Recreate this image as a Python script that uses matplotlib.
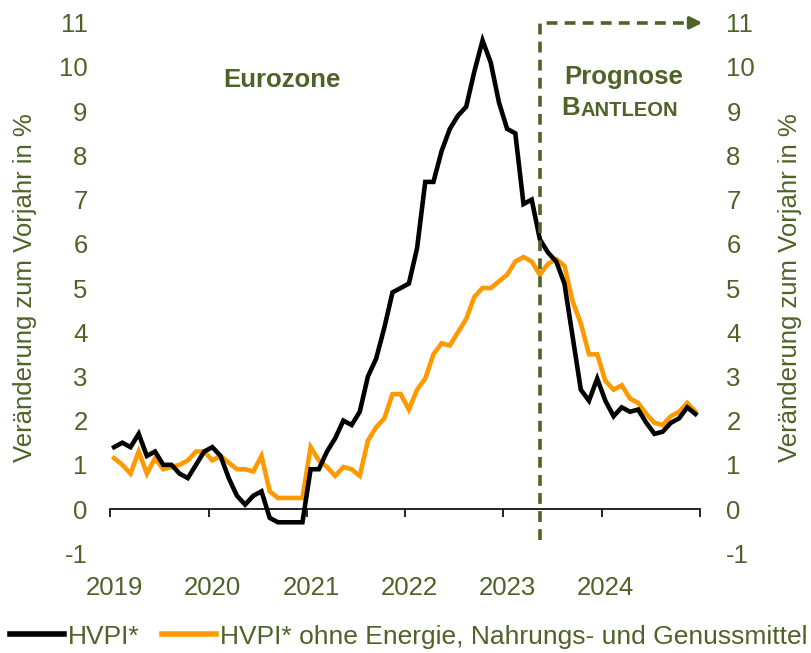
import matplotlib
matplotlib.use("Agg")
import matplotlib.pyplot as plt
import matplotlib.transforms as mtransforms
import numpy as np
from matplotlib.lines import Line2D

plt.rcParams['font.family'] = ['Liberation Sans', 'DejaVu Sans']
plt.rcParams['axes.unicode_minus'] = False

OLIVE = '#4f6228'
ORANGE = '#ff9900'

# monthly values, Jan 2019 .. Dec 2024 (from May 2023 on: forecast)
hvpi = [1.4, 1.5, 1.4, 1.7, 1.2, 1.3, 1.0, 1.0, 0.8, 0.7, 1.0, 1.3,
        1.4, 1.2, 0.7, 0.3, 0.1, 0.3, 0.4, -0.2, -0.3, -0.3, -0.3, -0.3,
        0.9, 0.9, 1.3, 1.6, 2.0, 1.9, 2.2, 3.0, 3.4, 4.1, 4.9, 5.0,
        5.1, 5.9, 7.4, 7.4, 8.1, 8.6, 8.9, 9.1, 9.9, 10.6, 10.1, 9.2,
        8.6, 8.5, 6.9, 7.0, 6.1, 5.8, 5.6, 5.1, 3.9, 2.7, 2.45, 2.95,
        2.45, 2.1, 2.3, 2.2, 2.25, 1.95, 1.7, 1.75, 1.95, 2.05, 2.3, 2.15]
kern = [1.15, 1.0, 0.8, 1.3, 0.8, 1.15, 0.9, 0.95, 1.0, 1.1, 1.3, 1.3,
        1.1, 1.2, 1.05, 0.9, 0.9, 0.85, 1.2, 0.4, 0.25, 0.25, 0.25, 0.25,
        1.4, 1.1, 0.95, 0.75, 0.95, 0.9, 0.75, 1.55, 1.85, 2.05, 2.6, 2.6,
        2.25, 2.7, 2.95, 3.5, 3.75, 3.7, 4.0, 4.3, 4.8, 5.0, 5.0, 5.15,
        5.3, 5.6, 5.7, 5.6, 5.3, 5.55, 5.65, 5.5, 4.7, 4.2, 3.5, 3.5,
        2.9, 2.7, 2.8, 2.5, 2.4, 2.15, 1.95, 1.9, 2.1, 2.2, 2.4, 2.2]
years = ['2019', '2020', '2021', '2022', '2023', '2024']
forecast_start = 52  # May 2023

months = np.arange(len(hvpi)) + 0.45

fig = plt.figure(figsize=(8.12, 6.53), dpi=100)
ax = fig.add_axes([0.136, 0.1528, 0.726, 0.8123])
ax2 = ax.twinx()

ax.plot(months, kern, color=ORANGE, lw=3.3, solid_joinstyle='miter', zorder=3)
ax.plot(months, hvpi, color='black', lw=3.3, solid_joinstyle='miter', zorder=4)

ax.set_xlim(0, 72)
for a in (ax, ax2):
    a.set_ylim(-1, 11)
    a.set_yticks(range(-1, 12))
    for s in ('top', 'left', 'right'):
        a.spines[s].set_visible(False)
ax2.spines['bottom'].set_visible(False)

ax.tick_params(axis='y', length=0, pad=16.5, labelsize=18.5, labelcolor=OLIVE)
ax2.tick_params(axis='y', length=0, pad=19, labelsize=18.5, labelcolor=OLIVE)

# x axis crosses at 0, labels sit below the plot
ax.spines['bottom'].set_position(('data', 0))
ax.spines['bottom'].set_linewidth(1.2)
ax.set_xticks(range(0, 73, 12))
ax.set_xticklabels(years + [''])
ax.tick_params(axis='x', direction='out', length=5.5, width=1.2,
               pad=43, labelsize=18.5, labelcolor=OLIVE)
shift = mtransforms.ScaledTranslation(4 / 100, 0, fig.dpi_scale_trans)
for lab in ax.get_xticklabels():
    lab.set_transform(lab.get_transform() + shift)

# forecast marker
fx = months[forecast_start]
ax.plot([fx, fx, 71.9], [-0.7, 11, 11], color=OLIVE, lw=2.6,
        ls=(0, (3, 2)), clip_on=False, zorder=5)
ax.annotate('', xy=(72.3, 11), xytext=(71.0, 11),
            arrowprops=dict(arrowstyle='-|>,head_length=0.7,head_width=0.35',
                            color=OLIVE, lw=2.6, shrinkA=0, shrinkB=0),
            annotation_clip=False)

ax.text(21, 9.7, 'Eurozone', color=OLIVE, fontsize=18.5, fontweight='bold',
        ha='center', va='center')
ax.text(62.7, 9.77, 'Prognose', color=OLIVE, fontsize=18.5, fontweight='bold',
        ha='center', va='center')
tb = ax.text(55.1, 9.07, 'B', color=OLIVE, fontsize=18.5, fontweight='bold',
             ha='left', va='center')
ax.annotate('ANTLEON', xy=(1, 0), xycoords=tb, color=OLIVE, fontsize=14.5,
            fontweight='bold', ha='left', va='bottom')

ylab = 'Veränderung zum Vorjahr in %'
fig.text(25 / 812, 0.559, ylab, rotation=90, color=OLIVE, fontsize=18.5,
         ha='center', va='center')
fig.text(790 / 812, 0.559, ylab, rotation=90, color=OLIVE, fontsize=18.5,
         ha='center', va='center')

handles = [Line2D([], [], color='black', lw=4),
           Line2D([], [], color=ORANGE, lw=4)]
fig.legend(handles, ['HVPI*', 'HVPI* ohne Energie, Nahrungs- und Genussmittel'],
           loc='center left', bbox_to_anchor=(10 / 812, 0.025), ncol=2,
           frameon=False, fontsize=19, labelcolor=OLIVE, handlelength=2.05,
           handletextpad=0.15, columnspacing=0.85, borderpad=0, borderaxespad=0)

fig.savefig('out.png', dpi=100)
